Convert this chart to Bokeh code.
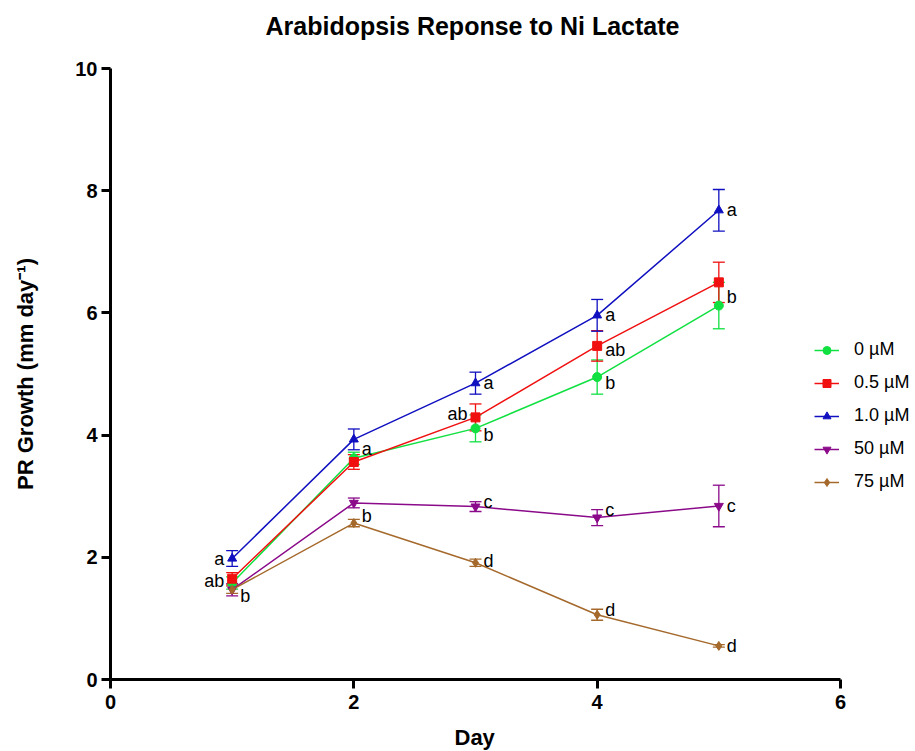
from bokeh.plotting import figure
from bokeh.models import (ColumnDataSource, Range1d, Whisker, TeeHead, Legend,
                          LegendItem, FixedTicker, Title)
from bokeh.core.properties import value
from bokeh.embed import file_html
from bokeh.resources import INLINE

# ---------------- data ----------------
days = [1, 2, 3, 4, 5]
series_names = ["0 µM", "0.5 µM", "1.0 µM", "50 µM", "75 µM"]
means_0 = [1.58, 3.62, 4.11, 4.95, 6.12]
err_0 = [0.10, 0.10, 0.22, 0.28, 0.38]
means_05 = [1.65, 3.56, 4.29, 5.46, 6.50]
err_05 = [0.10, 0.12, 0.22, 0.25, 0.33]
means_10 = [1.98, 3.93, 4.85, 5.96, 7.68]
err_10 = [0.13, 0.17, 0.18, 0.26, 0.34]
means_50 = [1.47, 2.89, 2.83, 2.65, 2.84]
err_50 = [0.10, 0.08, 0.08, 0.13, 0.34]
means_75 = [1.47, 2.56, 1.91, 1.06, 0.55]
err_75 = [0.06, 0.06, 0.06, 0.09, 0.02]

# significance letters: (day, series index, text, side, pixel y shift)
ann_day = [1, 1, 1, 2, 2, 3, 3, 3, 3, 3, 4, 4, 4, 4, 4, 5, 5, 5, 5]
ann_series = [2, 1, 3, 0, 4, 2, 1, 0, 3, 4, 2, 1, 0, 3, 4, 2, 0, 3, 4]
ann_text = ["a", "ab", "b", "a", "b", "a", "ab", "b", "c", "d",
            "a", "ab", "b", "c", "d", "a", "b", "c", "d"]
ann_side = ["L", "L", "R", "R", "R", "R", "L", "R", "R", "R",
            "R", "R", "R", "R", "R", "R", "R", "R", "R"]
ann_dy = [0, -2, -6, 9, 7, 0, 3, -7, 5, 2, 0, -4, -6, 8, 5, 0, 9, 0, 0]

x_ticks = [0, 2, 4, 6]
y_ticks = [0, 2, 4, 6, 8, 10]

all_means = [means_0, means_05, means_10, means_50, means_75]
all_errs = [err_0, err_05, err_10, err_50, err_75]
colors = ["#10e040", "#f01010", "#1010c0", "#8a0a8a", "#a5692c"]
markers = ["circle", "square", "triangle", "inverted_triangle", "diamond"]

FONT = "Liberation Sans"

W, H = 912, 751
LEFT, TOP, BOTTOM = 110, 68, 70
frame_w = W - LEFT
x_end = 6 * frame_w / 730.0  # axis 0..6 spans 730px; extra room on right for legend

p = figure(width=W, height=H, output_backend="svg", toolbar_location=None,
           x_range=Range1d(0, x_end), y_range=Range1d(0, 10),
           min_border_left=LEFT, min_border_right=0,
           min_border_top=TOP, min_border_bottom=BOTTOM, title=None)
p.outline_line_color = None
p.grid.grid_line_color = None
p.background_fill_color = "white"

# spacer between the frame and the title, so the title sits near the top edge
spacer = Title(text=" ", text_font_size="2px", standoff=23, text_color="white")
p.add_layout(spacer, "above")
title = Title(text="Arabidopsis Reponse to Ni Lactate", align="left", offset=155,
              text_font=FONT, text_font_size="25px", text_font_style="bold",
              text_color="black", standoff=0, vertical_align="top")
p.add_layout(title, "above")

for ax in (p.xaxis[0], p.yaxis[0]):
    ax.axis_line_width = 3
    ax.major_tick_line_width = 3
    ax.major_tick_out = 9
    ax.major_tick_in = 0
    ax.minor_tick_line_color = None
    ax.major_label_text_font = FONT
    ax.major_label_text_font_size = "20px"
    ax.major_label_text_font_style = "bold"
    ax.major_label_text_color = "black"
    ax.axis_line_color = "black"
    ax.major_tick_line_color = "black"
    ax.axis_label_text_font = FONT
    ax.axis_label_text_font_size = "22px"
    ax.axis_label_text_font_style = "bold"
    ax.axis_label_text_color = "black"

p.xaxis.ticker = FixedTicker(ticks=x_ticks)
p.xaxis.bounds = (0, 6)
p.yaxis.ticker = FixedTicker(ticks=y_ticks)
p.yaxis.axis_label = "PR Growth (mm day\u207b\u00b9)"
p.yaxis.axis_label_standoff = 34
p.xaxis.major_label_standoff = 6
p.yaxis.major_label_standoff = 4

# x-axis title, centred under the 0..6 span of the axis
spacer_b = Title(text=" ", text_font_size="2px", standoff=9, text_color="white")
p.add_layout(spacer_b, "below")
xlabel = Title(text="Day", align="left", offset=344, text_font=FONT,
               text_font_size="22px", text_font_style="bold", text_color="black",
               standoff=0, vertical_align="top")
p.add_layout(xlabel, "below")

items = []
for i, name in enumerate(series_names):
    m = all_means[i]
    e = all_errs[i]
    src = ColumnDataSource(dict(x=days, y=m,
                                lo=[a - b for a, b in zip(m, e)],
                                hi=[a + b for a, b in zip(m, e)]))
    w = Whisker(source=src, base="x", upper="hi", lower="lo",
                line_color=colors[i], line_width=1.3,
                upper_head=TeeHead(size=12, line_color=colors[i], line_width=1.3),
                lower_head=TeeHead(size=12, line_color=colors[i], line_width=1.3))
    p.add_layout(w)
    r_line = p.line("x", "y", source=src, line_color=colors[i], line_width=1.5)
    r_mark = p.scatter("x", "y", source=src, marker=markers[i], size=9,
                       fill_color=colors[i], line_color=colors[i])
    items.append(LegendItem(label=name, renderers=[r_line, r_mark]))

# letters
ax_x, ax_y, ax_t, ax_xo, ax_yo, ax_align = [], [], [], [], [], []
for d, s, t, side, dy in zip(ann_day, ann_series, ann_text, ann_side, ann_dy):
    ax_x.append(d)
    ax_y.append(all_means[s][days.index(d)])
    ax_t.append(t)
    ax_xo.append(8 if side == "R" else -8)
    ax_yo.append(-dy)
    ax_align.append("left" if side == "R" else "right")
asrc = ColumnDataSource(dict(x=ax_x, y=ax_y, t=ax_t, xo=ax_xo, yo=ax_yo, al=ax_align))
p.text("x", "y", text="t", source=asrc, x_offset="xo", y_offset="yo",
       text_align="al", text_baseline="middle", text_font=value(FONT),
       text_font_size="18px", text_color="black")

legend = Legend(items=items, location=(704, 187), background_fill_alpha=0,
                border_line_color=None, padding=0, spacing=12,
                glyph_width=25, glyph_height=20, label_height=20,
                label_standoff=15, label_text_font=FONT,
                label_text_font_size="18px", label_text_color="black", margin=0)
p.add_layout(legend, "center")

open("out.html", "w").write(file_html(p, INLINE))
